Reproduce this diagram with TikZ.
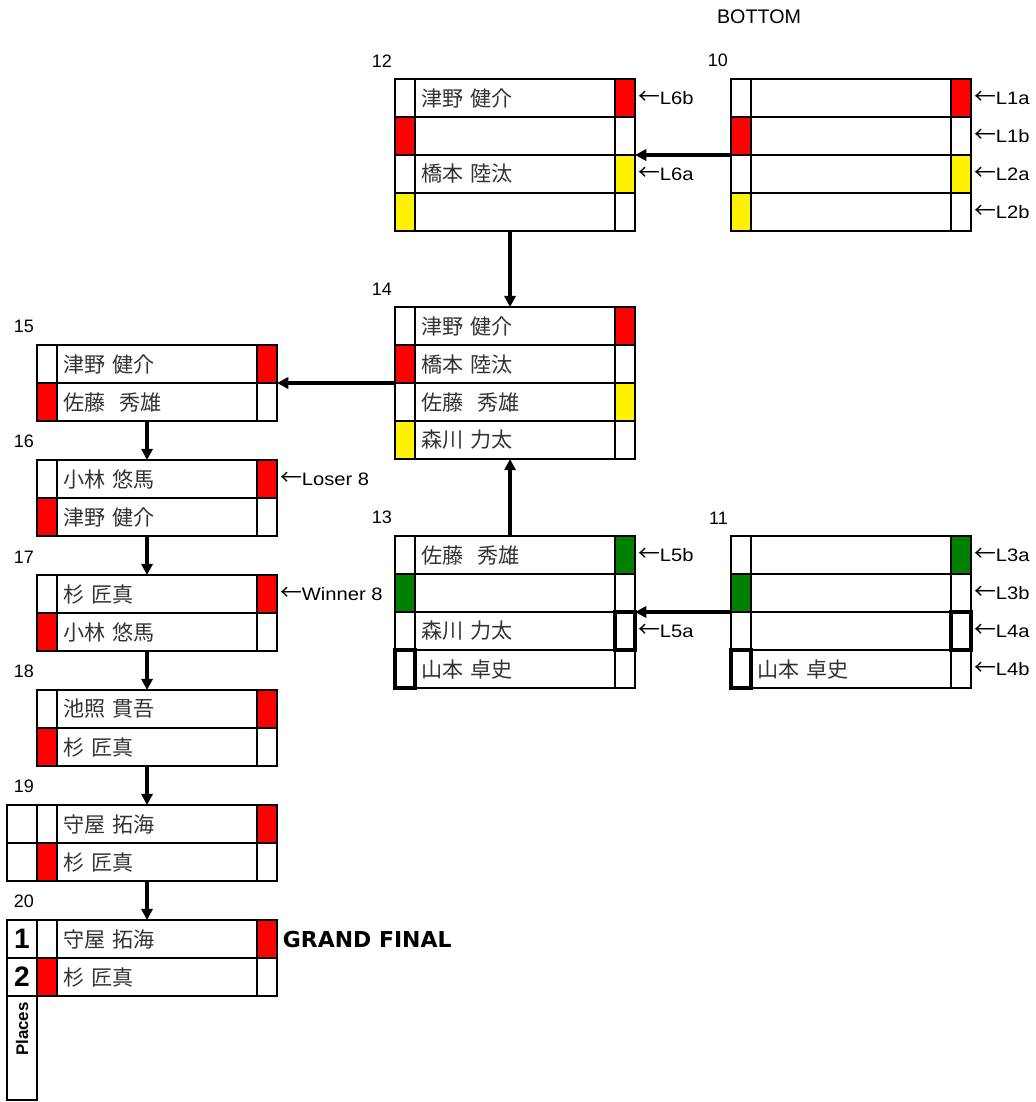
\documentclass[tikz,border=0pt]{standalone}
\usepackage{fontspec}
\setmainfont{Liberation Sans}
\newfontfamily\jpfont{Noto Sans CJK JP}
\newfontfamily\heavyfont{DejaVu Sans}
\newfontfamily\tagfont[FakeStretch=1.12]{Liberation Sans}
\usepackage{tikz}
\usetikzlibrary{arrows.meta}
\pgfdeclarelayer{bg}
\pgfsetlayers{bg,main}
\definecolor{sgreen}{RGB}{0,128,0}
\newcommand{\fromarrow}{{\jpfont\fontsize{15.5}{15.5}\selectfont ←}}
\newcommand{\matchrow}[5]{%
        \node (#1l) [cell, #3] at (#2) {};
        \node (#1) [namecell] at (#1l.north east) {#4};
        \node (#1r) [cell, #5] at (#1.north east) {};
}
\tikzset{
        cell/.style={draw, line width=1.9pt, minimum width=0.5cm, minimum height=0.95cm,
                inner sep=0pt, outer sep=0pt, anchor=north west},
        namecell/.style={cell, minimum width=5cm, text width=4.7cm, inner xsep=0.15cm,
                align=left, text=black!80, font=\jpfont\fontsize{15}{17}\selectfont},
        seed/.style={line width=3pt},
        tag/.style={inner sep=2pt, font=\tagfont\fontsize{12.8}{14}\selectfont},
        num/.style={inner sep=2pt, font=\fontsize{12.8}{14}\selectfont, anchor=south east, yshift=0.22cm},
        grand/.style={inner sep=4pt, font=\heavyfont\bfseries\fontsize{15.6}{18}\selectfont},
        rank/.style={cell, minimum width=0.75cm, font=\bfseries\fontsize{20}{22}\selectfont},
        feed/.style={line width=2.3pt, -{Triangle[length=0.28cm,width=0.28cm]}},
}

\begin{document}
\begin{tikzpicture}[x=0.025cm, y=-0.025cm]
        \useasboundingbox (0,0) rectangle (1036,1102);
        \node (bottom) [inner sep=2pt, font=\fontsize{14}{16}\selectfont, anchor=west] at (714,17) {BOTTOM};
        \matchrow{m12-1}{395,79}{label={[num]north west:12}}{津野 健介}{fill=red, label={[tag]right:\fromarrow L6b}}
        \matchrow{m12-2}{395,117}{fill=red}{}{}
        \matchrow{m12-3}{395,155}{}{橋本 陸汰}{fill=yellow, label={[tag]right:\fromarrow L6a}}
        \matchrow{m12-4}{395,193}{fill=yellow}{}{}
        \matchrow{m10-1}{731,79}{label={[num]north west:10}}{}{fill=red, label={[tag]right:\fromarrow L1a}}
        \matchrow{m10-2}{731,117}{fill=red}{}{label={[tag]right:\fromarrow L1b}}
        \matchrow{m10-3}{731,155}{}{}{fill=yellow, label={[tag]right:\fromarrow L2a}}
        \matchrow{m10-4}{731,193}{fill=yellow}{}{label={[tag]right:\fromarrow L2b}}
        \matchrow{m14-1}{395,307}{label={[num]north west:14}}{津野 健介}{fill=red}
        \matchrow{m14-2}{395,345}{fill=red}{橋本 陸汰}{}
        \matchrow{m14-3}{395,383}{}{佐藤\ \ 秀雄}{fill=yellow}
        \matchrow{m14-4}{395,421}{fill=yellow}{森川 力太}{}
        \matchrow{m13-1}{395,536}{label={[num]north west:13}}{佐藤\ \ 秀雄}{fill=sgreen, label={[tag]right:\fromarrow L5b}}
        \matchrow{m13-2}{395,574}{fill=sgreen}{}{}
        \matchrow{m13-3}{395,612}{}{森川 力太}{seed, label={[tag]right:\fromarrow L5a}}
        \matchrow{m13-4}{395,650}{seed}{山本 卓史}{}
        \matchrow{m11-1}{731,536}{label={[num]north west:11}}{}{fill=sgreen, label={[tag]right:\fromarrow L3a}}
        \matchrow{m11-2}{731,574}{fill=sgreen}{}{label={[tag]right:\fromarrow L3b}}
        \matchrow{m11-3}{731,612}{}{}{seed, label={[tag]right:\fromarrow L4a}}
        \matchrow{m11-4}{731,650}{seed}{山本 卓史}{label={[tag]right:\fromarrow L4b}}
        \matchrow{m15-1}{37,345}{label={[num]north west:15}}{津野 健介}{fill=red}
        \matchrow{m15-2}{37,383}{fill=red}{佐藤\ \ 秀雄}{}
        \matchrow{m16-1}{37,460}{label={[num]north west:16}}{小林 悠馬}{fill=red, label={[tag]right:\fromarrow Loser 8}}
        \matchrow{m16-2}{37,498}{fill=red}{津野 健介}{}
        \matchrow{m17-1}{37,575}{label={[num]north west:17}}{杉 匠真}{fill=red, label={[tag]right:\fromarrow Winner 8}}
        \matchrow{m17-2}{37,613}{fill=red}{小林 悠馬}{}
        \matchrow{m18-1}{37,690}{label={[num]north west:18}}{池照 貫吾}{fill=red}
        \matchrow{m18-2}{37,728}{fill=red}{杉 匠真}{}
        \node (x19a) [rank] at (7,805) {};
        \node (x19b) [rank] at (7,843) {};
        \matchrow{m19-1}{37,805}{label={[num]north west:19}}{守屋 拓海}{fill=red}
        \matchrow{m19-2}{37,843}{fill=red}{杉 匠真}{}
        \node (rank1) [rank] at (7,920) {1};
        \node (rank2) [rank] at (7,958) {2};
        \node (places) [cell, minimum width=0.75cm, minimum height=2.6cm] at (7,996) {};
        \node (placestext) [rotate=90, anchor=east, inner sep=2pt, font=\bfseries\fontsize{12}{14}\selectfont]
                at ([yshift=-0.08cm]places.north) {Places};
        \matchrow{m20-1}{37,920}{label={[num]north west:20}}{守屋 拓海}{fill=red, label={[grand]right:GRAND FINAL}}
        \matchrow{m20-2}{37,958}{fill=red}{杉 匠真}{}
        \begin{pgfonlayer}{bg}
                \fill[white] (0,0) rectangle (1036,1102);
                \draw[feed] (m10-2l.south west) -- (m12-2r.south east);
                \draw[feed] ([xshift=-0.125cm]m12-4.south) -- ([xshift=-0.125cm]m14-1.north);
                \draw[feed] (m11-2l.south west) -- (m13-2r.south east);
                \draw[feed] ([xshift=-0.125cm]m13-1.north) -- ([xshift=-0.125cm]m14-4.south);
                \draw[feed] (m14-2l.south west) -- (m15-1r.south east);
                \draw[feed] ([xshift=-0.25cm]m15-2.south) -- ([xshift=-0.25cm]m16-1.north);
                \draw[feed] ([xshift=-0.25cm]m16-2.south) -- ([xshift=-0.25cm]m17-1.north);
                \draw[feed] ([xshift=-0.25cm]m17-2.south) -- ([xshift=-0.25cm]m18-1.north);
                \draw[feed] ([xshift=-0.25cm]m18-2.south) -- ([xshift=-0.25cm]m19-1.north);
                \draw[feed] ([xshift=-0.25cm]m19-2.south) -- ([xshift=-0.25cm]m20-1.north);
        \end{pgfonlayer}
\end{tikzpicture}
\end{document}
